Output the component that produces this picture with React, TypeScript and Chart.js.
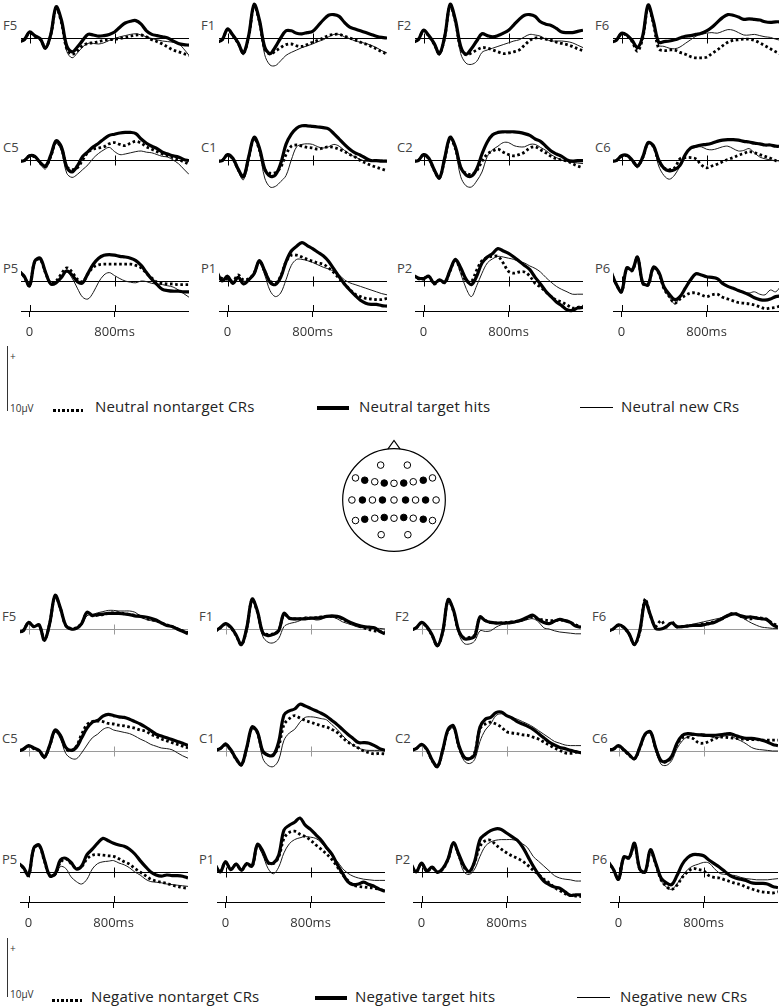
import React, { useEffect, useRef } from "react";
import { Chart, registerables } from "chart.js";

Chart.register(...registerables);

// ---------- time axis ----------
const TIMES = [-100, -50, 0, 50, 100, 150, 200, 250, 300, 350, 400, 450, 500, 550, 600, 650, 700, 750, 800, 850, 900, 950, 1000, 1050, 1100, 1150, 1200, 1250, 1300, 1350, 1400, 1450, 1500];
const TIME_TICKS = [0, 800];
const TIME_TICK_LABELS = ["0", "800ms"];
const T_MIN = -80;
const T_MAX = 1500;

// ---------- Neutral condition (µV) ----------
const NEU_F5_HITS = [-0.6,-0.3,1.0,0.4,-0.1,-1.7,0.6,5.2,3.0,-1.3,-2.3,-1.5,-0.4,0.6,0.5,0.3,0.4,0.6,1.0,1.8,2.5,2.8,2.9,2.3,1.2,0.6,0.4,0.2,0.0,-0.5,-0.9,-1.1,-1.2];
const NEU_F5_NONTARGET = [-0.6,-0.3,0.9,0.3,-0.2,-1.6,0.5,5.0,2.6,-1.8,-2.7,-2.1,-1.3,-0.9,-0.8,-0.6,-0.4,-0.3,-0.2,-0.1,0.1,0.3,0.5,0.5,0.2,-0.3,-0.6,-1.0,-1.5,-2.0,-2.3,-2.6,-2.9];
const NEU_F5_NEW = [-0.6,-0.4,0.9,0.3,-0.3,-1.9,0.4,5.0,2.5,-2.2,-3.3,-2.5,-1.5,-0.9,-0.9,-1.0,-0.8,-0.4,-0.1,0.2,0.4,0.6,0.7,0.5,0.2,-0.1,-0.3,-0.5,-0.6,-0.7,-0.9,-1.8,-2.9];

const NEU_F1_HITS = [-0.7,-0.3,1.5,0.5,-0.8,-2.5,0.5,5.6,3.0,-1.5,-2.6,-1.5,0.0,1.2,1.2,0.8,0.7,0.9,1.1,2.0,3.0,3.8,3.9,3.6,2.6,1.8,1.5,1.2,0.9,0.6,0.3,0.1,0.0];
const NEU_F1_NONTARGET = [-0.7,-0.3,1.4,0.4,-0.9,-2.5,0.3,5.4,2.7,-1.8,-2.7,-2.2,-1.6,-1.1,-1.0,-1.3,-1.4,-1.1,-0.7,-0.4,0.0,0.4,0.6,0.6,0.3,0.0,-0.3,-0.7,-1.0,-1.4,-1.8,-2.3,-2.7];
const NEU_F1_NEW = [-0.8,-0.4,1.3,0.3,-1.1,-2.8,0.2,5.3,2.3,-2.8,-4.5,-4.6,-3.8,-2.9,-2.4,-2.0,-1.6,-1.3,-1.0,-0.6,-0.3,0.2,0.6,0.6,0.2,-0.1,-0.5,-0.7,-0.9,-1.2,-1.6,-2.1,-2.5];

const NEU_F2_HITS = [-0.7,-0.3,1.3,0.4,-0.9,-2.6,0.3,5.6,3.0,-1.4,-2.7,-1.8,-0.5,0.7,0.4,0.2,0.4,0.8,1.3,2.2,3.1,3.8,3.9,3.6,2.7,2.3,2.1,1.6,1.0,0.9,0.9,1.1,1.3];
const NEU_F2_NONTARGET = [-0.7,-0.3,1.2,0.3,-1.0,-2.6,0.2,5.4,2.7,-1.8,-2.8,-2.5,-2.0,-1.6,-1.7,-2.0,-2.3,-2.6,-2.5,-2.3,-2.0,-1.2,-0.4,0.0,0.0,-0.2,-0.4,-0.7,-0.9,-1.1,-1.4,-1.8,-2.1];
const NEU_F2_NEW = [-0.8,-0.4,1.1,0.2,-1.2,-2.9,0.1,5.2,2.4,-2.6,-4.2,-4.4,-3.9,-2.4,-2.0,-1.7,-1.4,-1.1,-0.8,-0.5,-0.3,0.2,0.6,0.5,0.3,-0.2,-0.5,-0.5,-0.5,-0.6,-0.8,-1.2,-1.6];

const NEU_F6_HITS = [-0.7,-0.4,0.8,0.5,-0.4,-1.6,0.4,5.5,2.8,-0.7,-0.6,-0.5,-0.3,0.0,0.3,0.4,0.6,0.8,1.2,1.8,2.6,3.4,3.9,3.8,3.5,3.1,3.2,3.1,3.0,2.7,2.6,2.7,2.7];
const NEU_F6_NONTARGET = [-0.7,-0.4,0.7,0.4,-0.6,-2.2,0.0,5.2,2.4,-1.8,-2.1,-2.0,-2.0,-2.4,-2.7,-3.1,-3.3,-3.3,-3.2,-2.6,-2.0,-1.3,-0.7,-0.4,-0.3,-0.2,-0.2,-0.4,-0.8,-1.3,-1.8,-2.3,-2.7];
const NEU_F6_NEW = [-0.7,-0.4,0.7,0.4,-0.5,-1.8,0.2,5.3,2.5,-1.2,-1.4,-1.7,-1.8,-1.5,-0.9,-0.3,0.3,0.6,0.8,0.9,0.8,1.1,1.4,1.3,0.9,0.5,0.5,0.6,0.4,0.2,0.1,-0.2,-0.4];

const NEU_C5_HITS = [-0.2,-0.1,0.7,0.6,-0.4,-1.0,0.8,3.2,2.2,-1.2,-2.0,-1.0,0.6,1.4,2.2,2.8,3.5,4.1,4.3,4.5,4.6,4.6,4.4,3.5,2.8,2.3,1.9,1.3,1.0,0.7,0.5,0.1,-0.1];
const NEU_C5_NONTARGET = [-0.2,-0.1,0.7,0.5,-0.5,-1.1,0.6,3.0,2.0,-1.1,-1.6,-1.3,0.0,1.3,1.8,2.0,2.2,2.7,2.9,2.6,2.4,2.8,3.1,2.8,2.2,1.8,1.4,1.0,0.7,0.4,0.1,-0.3,-0.7];
const NEU_C5_NEW = [-0.3,-0.2,0.6,0.4,-0.7,-1.5,0.4,2.8,1.5,-2.2,-2.9,-2.4,-1.6,-0.8,0.3,1.1,1.7,2.1,1.4,0.9,1.0,1.2,1.4,1.5,1.3,1.2,0.9,0.6,0.5,0.0,-0.6,-1.5,-2.4];

const NEU_C1_HITS = [-0.2,-0.1,0.9,0.3,-1.5,-2.8,0.6,3.8,2.0,-1.5,-2.7,-2.5,-0.6,2.6,4.3,5.3,5.7,5.7,5.6,5.5,5.4,5.2,4.4,3.5,2.6,1.8,1.2,0.8,0.3,-0.1,-0.1,-0.2,-0.2];
const NEU_C1_NONTARGET = [-0.2,-0.1,0.8,0.2,-1.6,-2.8,0.4,3.6,1.7,-1.6,-2.2,-2.1,-1.2,0.9,2.3,2.5,2.3,2.1,2.0,1.8,2.0,2.2,2.1,1.8,1.4,0.9,0.5,-0.1,-0.5,-0.9,-1.2,-1.5,-1.8];
const NEU_C1_NEW = [-0.3,-0.2,0.7,0.1,-1.9,-3.3,0.2,3.6,1.4,-3.0,-4.5,-4.4,-3.6,-2.6,0.0,2.2,2.6,2.7,2.6,2.2,2.0,2.2,2.6,2.3,1.6,1.0,0.5,0.1,-0.2,-0.2,-0.1,0.0,-0.1];

const NEU_C2_HITS = [-0.2,-0.1,0.9,0.3,-1.6,-3.0,0.4,3.8,2.2,-1.2,-2.5,-2.7,-1.5,1.0,3.0,4.2,4.6,4.7,4.7,4.7,4.6,4.4,4.1,3.5,3.1,2.3,1.5,1.0,0.6,0.0,-0.2,-0.1,-0.1];
const NEU_C2_NONTARGET = [-0.2,-0.1,0.8,0.2,-1.7,-3.0,0.2,3.6,1.9,-1.3,-2.2,-2.4,-1.8,-0.2,1.0,1.5,1.8,1.3,0.9,0.7,0.9,1.3,2.0,2.2,1.7,1.2,0.6,0.2,0.0,-0.2,-0.6,-1.0,-1.3];
const NEU_C2_NEW = [-0.3,-0.2,0.7,0.1,-1.9,-3.2,0.1,3.5,1.6,-2.8,-4.3,-4.5,-3.5,-2.0,0.6,1.7,2.3,2.9,2.9,2.4,2.2,2.2,2.6,2.6,2.1,1.6,0.9,0.4,0.0,-0.2,-0.4,-0.5,-0.6];

const NEU_C6_HITS = [-0.2,-0.1,0.7,0.8,0.0,-1.0,0.5,2.9,2.4,0.0,-1.4,-1.8,-1.6,-0.9,0.9,2.0,2.3,2.5,2.6,2.8,3.1,3.3,3.4,3.4,3.3,3.1,3.0,2.8,2.7,2.5,2.5,2.3,2.3];
const NEU_C6_NONTARGET = [-0.2,-0.1,0.6,0.7,-0.1,-1.0,0.4,2.8,2.2,-0.2,-1.3,-1.6,-1.3,0.2,0.4,0.4,0.2,-0.8,-1.3,-1.0,-0.7,-0.3,0.1,0.4,0.8,1.1,1.4,1.2,0.9,0.6,0.3,-0.1,-0.3];
const NEU_C6_NEW = [-0.3,-0.2,0.6,0.7,-0.2,-1.3,0.3,2.8,2.2,-1.0,-2.6,-3.2,-2.5,-1.0,0.8,1.8,2.1,2.2,1.8,1.7,1.9,2.2,2.3,1.9,1.5,1.6,1.9,1.2,0.5,0.2,0.0,-0.1,-0.2];

const NEU_P5_HITS = [1.7,0.8,-0.8,3.3,3.8,1.5,-0.5,-0.3,0.6,1.7,1.0,-0.1,-0.3,1.3,2.8,3.8,4.3,4.4,4.3,4.1,4.0,3.8,3.4,2.6,1.4,0.3,-0.6,-1.4,-1.6,-1.7,-1.7,-1.8,-1.8];
const NEU_P5_NONTARGET = [1.7,0.7,-0.8,3.3,3.6,1.4,-0.4,0.0,1.2,2.2,1.5,0.3,-0.1,1.2,2.3,2.7,2.8,2.8,2.8,2.8,2.8,2.8,2.6,2.2,1.3,0.5,-0.2,-0.4,-0.5,-0.5,-0.6,-0.6,-0.6];
const NEU_P5_NEW = [1.7,0.6,-0.9,3.2,3.5,1.3,-0.6,-0.1,0.7,1.5,0.5,-1.2,-2.7,-3.0,-1.9,-0.2,1.0,1.4,0.9,0.4,0.0,-0.2,-0.3,0.0,-0.1,-0.4,-0.5,-0.6,-0.8,-1.0,-1.5,-2.1,-2.7];

const NEU_P1_HITS = [1.5,0.0,0.8,-0.4,0.6,-0.5,0.2,1.2,3.4,1.7,-0.2,-0.6,0.6,3.2,5.0,5.8,6.4,5.9,5.4,4.8,4.2,3.3,2.0,0.7,-0.5,-1.5,-2.4,-3.2,-3.7,-3.9,-3.9,-4.1,-4.2];
const NEU_P1_NONTARGET = [1.2,0.4,0.3,0.0,1.0,0.2,0.4,1.3,3.3,1.6,0.0,-0.3,0.8,3.2,4.3,4.3,4.0,3.6,3.3,3.0,2.8,2.2,1.4,0.4,-0.5,-1.4,-2.2,-2.6,-2.9,-3.0,-3.1,-3.1,-2.9];
const NEU_P1_NEW = [1.2,0.3,0.2,-0.2,0.8,0.0,0.1,1.0,3.0,1.0,-1.6,-2.6,-2.0,0.2,2.6,3.6,3.6,3.4,3.1,2.7,2.3,2.0,1.6,1.0,0.2,-0.3,-0.6,-0.9,-1.2,-1.5,-1.8,-2.1,-2.3];

const NEU_P2_HITS = [1.0,0.5,0.4,0.8,-0.4,0.2,-0.2,1.8,3.6,2.2,0.3,-0.6,0.8,3.0,4.0,4.6,5.4,5.0,4.6,4.0,3.3,2.6,1.9,0.6,-0.5,-1.7,-2.6,-3.5,-4.1,-4.8,-4.9,-4.5,-4.4];
const NEU_P2_NONTARGET = [0.9,0.4,0.3,0.7,-0.5,0.1,-0.3,1.7,3.4,1.8,0.0,-0.1,1.8,3.4,3.9,4.1,4.1,3.0,1.6,1.3,1.5,1.5,0.8,-0.4,-1.0,-1.8,-2.6,-3.2,-3.5,-4.0,-4.5,-4.4,-4.2];
const NEU_P2_NEW = [0.9,0.4,0.3,0.6,-0.6,0.0,-0.4,1.5,3.3,1.2,-1.2,-2.6,-0.8,1.3,3.0,3.7,4.1,4.0,3.8,3.6,3.2,3.0,2.5,2.1,1.5,0.6,-0.2,-0.9,-1.4,-1.8,-2.2,-2.2,-2.2];

const NEU_P6_HITS = [1.6,-0.5,-1.8,2.2,1.8,4.0,-0.3,-0.6,2.3,1.5,-1.0,-2.2,-3.1,-2.6,-1.2,0.2,1.2,1.0,0.7,0.6,0.4,-0.4,-0.9,-1.2,-1.6,-1.9,-2.3,-2.8,-3.1,-3.2,-3.0,-2.6,-2.5];
const NEU_P6_NONTARGET = [1.5,-0.5,-1.8,2.1,1.7,3.9,-0.4,-0.7,2.2,1.3,-1.3,-2.6,-3.7,-3.0,-2.4,-2.0,-2.0,-2.3,-2.6,-2.3,-2.2,-2.7,-3.0,-3.3,-3.6,-3.7,-3.8,-4.0,-4.3,-4.6,-4.5,-4.4,-4.1];
const NEU_P6_NEW = [1.5,-0.5,-1.8,2.1,1.7,3.9,-0.4,-0.7,2.1,1.2,-1.4,-2.7,-3.8,-2.6,-1.0,0.2,1.1,1.1,0.8,0.5,0.3,-0.3,-0.8,-1.3,-1.7,-1.9,-2.0,-1.8,-2.2,-2.3,-1.5,-1.8,-0.8];

// ---------- Negative condition (µV) ----------
const NEG_F5_HITS = [-0.5,-0.3,1.1,0.4,0.7,-1.9,1.0,5.6,3.5,0.6,0.0,0.1,0.9,2.8,2.3,2.4,2.5,2.6,2.6,2.6,2.5,2.4,2.2,2.1,2.0,1.8,1.5,1.0,0.6,0.4,0.0,-0.4,-0.8];
const NEG_F5_NONTARGET = [-0.5,-0.3,1.1,0.4,0.6,-1.8,1.0,5.5,3.4,0.6,0.1,0.2,1.0,2.7,2.2,2.3,2.4,2.6,2.7,2.7,2.6,2.4,2.3,2.1,1.8,1.6,1.4,1.0,0.7,0.4,0.0,-0.3,-0.6];
const NEG_F5_NEW = [-0.5,-0.3,1.0,0.4,0.6,-1.9,0.9,5.5,3.3,0.4,-0.1,0.0,0.7,2.2,2.4,2.7,2.9,3.1,3.1,3.0,3.0,3.0,2.8,2.2,1.6,1.4,1.2,1.0,0.7,0.5,0.2,-0.2,-0.5];

const NEG_F1_HITS = [-0.4,0.2,0.9,0.3,-1.0,-2.6,0.2,5.0,3.0,-0.6,-1.1,-0.9,-0.3,2.6,1.8,1.7,1.7,1.7,1.8,1.8,1.9,2.1,2.2,2.1,1.8,1.3,0.9,0.6,0.4,0.3,0.2,-0.4,-0.8];
const NEG_F1_NONTARGET = [-0.4,0.2,0.8,0.2,-1.1,-2.6,0.1,4.9,2.8,-0.6,-0.9,-0.8,-0.2,2.4,1.8,1.7,1.7,1.8,1.8,1.9,2.0,2.1,2.1,2.0,1.7,1.2,0.8,0.5,0.2,-0.1,-0.3,-0.4,-0.5];
const NEG_F1_NEW = [-0.4,0.2,1.0,0.3,-1.1,-2.7,0.1,4.9,2.7,-1.2,-2.2,-2.3,-1.6,0.4,0.9,1.1,1.4,2.0,1.8,1.5,1.6,2.0,2.0,1.7,1.2,0.9,0.6,0.3,0.2,0.2,0.1,0.1,0.0];

const NEG_F2_HITS = [-0.2,0.2,1.1,0.4,-1.0,-2.8,-0.4,4.9,3.2,-0.3,-1.6,-1.6,-1.2,2.0,1.4,1.1,1.0,1.0,1.0,1.1,1.3,1.6,2.0,2.3,1.6,1.1,0.9,1.3,1.6,1.4,1.1,0.5,0.3];
const NEG_F2_NONTARGET = [-0.2,0.2,1.0,0.3,-1.1,-2.8,-0.5,4.8,3.0,-0.4,-1.5,-1.4,-1.0,1.9,1.4,1.1,1.0,1.0,1.1,1.2,1.3,1.5,1.8,2.0,1.7,1.5,1.4,1.4,1.5,1.4,1.1,0.7,0.4];
const NEG_F2_NEW = [-0.2,0.2,1.0,0.3,-1.1,-2.9,-0.6,4.8,2.9,-0.8,-2.4,-2.5,-2.0,-0.3,-0.4,-0.3,0.3,0.7,0.9,1.0,1.1,1.3,1.6,1.7,1.2,0.2,0.0,-0.3,-0.5,-0.6,-0.7,-0.8,-0.8];

const NEG_F6_HITS = [-0.4,0.0,0.7,0.3,-0.8,-2.6,-0.3,4.6,2.3,0.1,0.0,0.4,1.0,0.4,0.4,0.5,0.6,0.6,0.7,0.9,1.1,1.5,2.0,2.4,2.5,2.2,2.0,2.0,1.8,1.7,1.5,0.7,0.3];
const NEG_F6_NONTARGET = [-0.4,0.0,0.6,0.2,-0.9,-2.6,-0.5,5.0,2.2,0.5,1.4,0.3,1.2,0.3,0.4,0.5,0.6,0.7,0.9,1.0,1.2,1.5,1.9,2.5,2.6,2.1,1.8,1.7,1.9,1.8,1.6,0.9,0.6];
const NEG_F6_NEW = [-0.4,0.0,0.6,0.2,-0.9,-2.7,-0.5,4.7,2.1,0.0,0.0,0.3,0.9,0.3,0.4,0.6,0.8,1.0,1.2,1.4,1.6,1.8,2.1,2.5,2.4,2.0,1.5,1.0,0.6,0.3,0.2,0.1,0.1];

const NEG_C5_HITS = [0.0,0.3,0.9,0.5,0.1,-1.0,1.0,3.5,2.6,0.6,0.1,0.6,2.2,3.8,4.8,5.1,5.8,6.1,5.9,5.7,5.6,5.3,4.9,4.5,4.0,3.4,2.8,2.5,2.2,1.9,1.6,1.3,0.9];
const NEG_C5_NONTARGET = [0.0,0.3,0.8,0.4,0.0,-1.0,0.9,3.4,2.5,0.4,0.0,0.8,2.8,4.4,4.9,5.0,4.9,4.6,4.5,4.3,4.2,4.0,3.8,3.5,3.3,2.8,2.4,2.0,1.7,1.4,1.1,0.8,0.5];
const NEG_C5_NEW = [0.0,0.2,0.8,0.4,-0.1,-1.3,0.6,3.1,2.0,-0.4,-1.2,-1.3,-0.3,1.0,2.2,2.8,3.6,3.9,3.5,3.3,3.1,2.9,2.5,2.0,1.6,1.1,0.8,0.5,0.4,0.2,-0.3,-0.8,-1.2];

const NEG_C1_HITS = [0.1,0.4,1.1,0.2,-1.3,-2.3,0.6,4.0,3.2,0.0,-0.7,-0.7,1.5,6.0,6.7,7.0,7.8,7.5,7.1,6.7,6.3,5.8,5.1,4.4,3.6,2.8,2.1,1.4,1.4,1.3,0.9,0.4,0.1];
const NEG_C1_NONTARGET = [0.1,0.4,1.0,0.1,-1.4,-2.3,0.5,3.9,3.0,-0.1,-0.7,-0.6,0.8,4.4,5.4,5.9,5.5,5.1,4.8,4.5,4.2,4.0,3.6,3.1,2.2,1.5,1.0,0.5,0.0,-0.3,-0.5,-0.4,-0.5];
const NEG_C1_NEW = [0.1,0.5,1.4,0.4,-1.1,-2.2,0.5,3.8,2.8,-1.2,-2.4,-2.6,-1.5,1.8,3.0,3.6,4.8,5.6,5.7,5.6,5.4,5.2,4.4,3.6,2.6,1.7,1.0,0.5,0.2,0.1,0.1,0.1,0.1];

const NEG_C2_HITS = [0.1,0.4,1.1,0.3,-1.5,-2.6,0.2,3.6,4.2,1.0,-1.0,-1.3,-0.6,4.0,5.3,5.6,6.4,6.5,5.9,5.5,4.9,4.5,4.1,3.6,2.9,2.2,1.5,1.0,0.6,0.4,0.1,-0.1,-0.3];
const NEG_C2_NONTARGET = [0.1,0.4,1.0,0.2,-1.6,-2.6,0.1,3.4,4.0,0.8,-1.1,-1.3,-0.3,3.7,4.5,4.8,4.5,4.0,3.2,3.0,2.9,2.7,2.6,2.3,2.0,1.5,1.0,0.5,0.1,-0.3,-0.4,-0.2,-0.3];
const NEG_C2_NEW = [0.1,0.4,1.0,0.2,-1.4,-2.4,0.1,3.3,3.8,0.5,-1.6,-2.1,-1.4,1.6,3.5,4.5,5.9,6.2,5.9,5.6,5.3,4.9,4.5,4.0,3.4,2.8,2.2,1.6,1.3,1.0,0.9,0.9,0.9];

const NEG_C6_HITS = [0.2,0.3,0.9,0.2,-0.6,-1.3,0.6,2.8,3.2,0.5,-1.6,-1.7,-0.9,1.3,2.6,2.9,2.8,2.7,2.6,2.6,2.6,2.7,2.8,2.9,2.6,2.3,2.1,2.1,2.0,1.8,1.5,1.1,0.9];
const NEG_C6_NONTARGET = [0.2,0.3,0.8,0.1,-0.7,-1.3,0.5,2.7,3.1,0.4,-1.7,-1.8,-1.0,1.1,2.2,2.3,2.1,1.4,1.3,1.6,2.0,2.3,2.3,2.2,2.1,2.0,1.9,1.9,1.9,1.8,1.8,1.8,1.8];
const NEG_C6_NEW = [0.2,0.3,0.8,0.1,-0.7,-1.4,0.4,2.6,3.0,0.0,-2.2,-2.4,-1.6,0.4,1.7,2.4,2.6,2.8,2.9,2.5,2.2,2.3,2.5,2.6,2.1,1.7,1.2,0.6,0.3,0.2,0.1,0.0,0.0];

const NEG_P5_HITS = [1.5,0.8,-0.5,4.0,4.5,2.0,-0.6,-0.3,2.0,2.3,1.6,0.5,1.0,2.9,3.8,4.8,5.6,5.2,4.8,4.5,4.3,3.8,3.0,1.9,0.9,0.0,-0.5,-0.7,-0.5,-0.6,-0.6,-0.7,-1.0];
const NEG_P5_NONTARGET = [1.5,0.7,-0.6,3.9,4.4,1.8,-0.7,-0.4,1.6,2.2,1.4,0.6,0.9,2.2,2.8,2.9,2.8,2.7,2.6,2.2,1.7,1.3,0.6,0.0,-0.6,-1.2,-1.5,-1.7,-1.9,-2.2,-2.4,-2.6,-2.7];
const NEG_P5_NEW = [1.5,0.7,-0.7,3.8,4.3,1.7,-0.8,-0.6,0.9,0.6,-0.8,-1.6,-2.0,-1.2,0.5,1.4,1.7,1.8,1.9,1.5,1.2,0.7,0.0,-0.5,-1.2,-1.6,-1.7,-1.8,-2.0,-2.1,-2.2,-2.3,-2.4];

const NEG_P1_HITS = [1.3,0.0,1.7,0.4,1.3,0.3,1.4,1.0,4.6,3.5,1.6,1.5,2.8,7.0,7.8,8.3,9.0,7.8,7.1,6.2,5.3,4.1,3.0,1.3,-0.2,-1.6,-2.1,-2.0,-1.7,-2.1,-2.4,-2.9,-3.2];
const NEG_P1_NONTARGET = [1.3,0.0,1.7,0.4,1.3,0.3,1.3,0.9,4.5,3.3,1.5,1.4,2.5,5.6,6.6,6.8,6.3,5.9,5.3,4.5,3.8,3.0,2.1,0.9,-0.4,-1.4,-2.2,-2.4,-2.5,-2.6,-2.7,-2.9,-3.1];
const NEG_P1_NEW = [1.2,0.0,1.6,0.3,1.2,0.2,1.2,0.8,4.3,2.8,0.6,-0.3,0.8,3.2,4.7,5.4,5.7,5.9,5.8,5.6,4.9,3.8,2.7,1.8,0.6,-0.2,-0.7,-1.0,-1.2,-1.3,-1.4,-1.4,-1.4];

const NEG_P2_HITS = [1.4,0.0,1.5,0.2,0.8,0.0,0.6,2.2,4.9,3.0,1.0,0.1,1.8,5.4,6.3,6.9,7.2,7.1,6.5,5.9,5.3,4.2,2.6,1.0,-0.4,-1.5,-2.1,-2.5,-2.7,-3.3,-3.9,-3.8,-3.8];
const NEG_P2_NONTARGET = [1.3,0.0,1.4,0.1,0.7,-0.1,0.5,2.1,4.8,2.8,0.8,0.0,1.6,4.3,5.2,5.3,4.5,3.8,3.2,2.7,2.3,1.8,1.1,0.3,-0.4,-1.2,-1.8,-2.6,-3.1,-3.6,-3.9,-4.0,-4.1];
const NEG_P2_NEW = [1.3,0.0,1.4,0.1,0.7,-0.1,0.5,2.0,4.6,2.4,0.0,-0.4,0.5,2.6,4.3,5.0,5.3,5.4,5.4,5.4,5.2,4.7,4.0,2.6,1.8,1.0,0.2,-0.6,-1.0,-1.2,-1.3,-1.5,-1.5];

const NEG_P6_HITS = [1.8,0.5,-1.2,2.5,2.4,4.8,0.5,0.0,3.7,1.5,-1.0,-1.8,-2.1,-0.6,1.3,2.4,2.9,2.9,2.7,2.0,1.4,0.8,0.1,-0.6,-1.0,-1.2,-1.4,-1.8,-1.9,-1.9,-2.0,-2.4,-2.6];
const NEG_P6_NONTARGET = [1.8,0.5,-1.2,2.4,2.3,4.7,0.4,-0.1,3.5,1.3,-1.3,-2.4,-2.9,-2.2,-0.9,0.0,0.6,0.4,0.2,-0.6,-0.9,-1.0,-1.3,-1.6,-1.9,-2.1,-2.5,-2.8,-3.1,-3.3,-3.4,-3.5,-3.3];
const NEG_P6_NEW = [1.8,0.5,-1.2,2.4,2.3,4.6,0.4,-0.1,3.5,1.3,-1.4,-2.5,-2.9,-2.0,-0.7,0.4,1.0,1.3,1.6,1.5,0.6,-0.2,-0.4,-0.5,-0.6,-0.9,-1.1,-1.2,-1.3,-1.3,-1.3,-1.2,-1.1];

// ---------- labels ----------
const SITE_LABELS = [
  ["F5", "F1", "F2", "F6"],
  ["C5", "C1", "C2", "C6"],
  ["P5", "P1", "P2", "P6"],
];
const NEUTRAL_LEGEND = ["Neutral nontarget CRs", "Neutral target hits", "Neutral new CRs"];
const NEGATIVE_LEGEND = ["Negative nontarget CRs", "Negative target hits", "Negative new CRs"];
const SCALE_LABEL = "10\u00b5V";

// [hits, nontarget CRs, new CRs] per site
const NEUTRAL_WAVES = [
  [[NEU_F5_HITS, NEU_F5_NONTARGET, NEU_F5_NEW], [NEU_F1_HITS, NEU_F1_NONTARGET, NEU_F1_NEW], [NEU_F2_HITS, NEU_F2_NONTARGET, NEU_F2_NEW], [NEU_F6_HITS, NEU_F6_NONTARGET, NEU_F6_NEW]],
  [[NEU_C5_HITS, NEU_C5_NONTARGET, NEU_C5_NEW], [NEU_C1_HITS, NEU_C1_NONTARGET, NEU_C1_NEW], [NEU_C2_HITS, NEU_C2_NONTARGET, NEU_C2_NEW], [NEU_C6_HITS, NEU_C6_NONTARGET, NEU_C6_NEW]],
  [[NEU_P5_HITS, NEU_P5_NONTARGET, NEU_P5_NEW], [NEU_P1_HITS, NEU_P1_NONTARGET, NEU_P1_NEW], [NEU_P2_HITS, NEU_P2_NONTARGET, NEU_P2_NEW], [NEU_P6_HITS, NEU_P6_NONTARGET, NEU_P6_NEW]],
];
const NEGATIVE_WAVES = [
  [[NEG_F5_HITS, NEG_F5_NONTARGET, NEG_F5_NEW], [NEG_F1_HITS, NEG_F1_NONTARGET, NEG_F1_NEW], [NEG_F2_HITS, NEG_F2_NONTARGET, NEG_F2_NEW], [NEG_F6_HITS, NEG_F6_NONTARGET, NEG_F6_NEW]],
  [[NEG_C5_HITS, NEG_C5_NONTARGET, NEG_C5_NEW], [NEG_C1_HITS, NEG_C1_NONTARGET, NEG_C1_NEW], [NEG_C2_HITS, NEG_C2_NONTARGET, NEG_C2_NEW], [NEG_C6_HITS, NEG_C6_NONTARGET, NEG_C6_NEW]],
  [[NEG_P5_HITS, NEG_P5_NONTARGET, NEG_P5_NEW], [NEG_P1_HITS, NEG_P1_NONTARGET, NEG_P1_NEW], [NEG_P2_HITS, NEG_P2_NONTARGET, NEG_P2_NEW], [NEG_P6_HITS, NEG_P6_NONTARGET, NEG_P6_NEW]],
];

// ---------- electrode montage (head-radius units) ----------
const ELECTRODE_X = [-0.26, 0.26, -0.75, -0.57, -0.375, -0.19, 0, 0.19, 0.375, 0.57, 0.75, -0.82, -0.615, -0.42, -0.225, 0, 0.225, 0.42, 0.615, 0.82, -0.75, -0.57, -0.375, -0.19, 0, 0.19, 0.375, 0.57, 0.75, -0.25, 0.27];
const ELECTRODE_Y = [0.68, 0.68, 0.43, 0.385, 0.355, 0.33, 0.325, 0.33, 0.355, 0.385, 0.43, 0, 0, 0, 0, 0, 0, 0, 0, 0, -0.40, -0.375, -0.355, -0.34, -0.355, -0.34, -0.355, -0.375, -0.40, -0.676, -0.676];
const ELECTRODE_SELECTED = [0, 0, 0, 1, 0, 1, 0, 1, 0, 1, 0, 0, 1, 0, 1, 0, 1, 0, 1, 0, 0, 1, 0, 1, 0, 1, 0, 1, 0, 0, 0];

// ---------- layout ----------
const FONT = '"Open Sans", "Noto Sans", sans-serif';
const PX_PER_MS = 0.10633;
const PLOT_W = 168;
const PLOT_H = 120;
const ABOVE_PX = 60; // px from canvas top to zero line
const Y_MAX = 10;
const PANELS = [
  { waves: NEUTRAL_WAVES, x0: [30, 227.5, 424, 621.5], base: [38, 160, 281], zeroColor: ["#000", "#000", "#000"], legend: NEUTRAL_LEGEND, legendTop: 399, legendX: [53, 95, 317, 359, 580, 621], scaleTop: 346, scaleH: 65 },
  { waves: NEGATIVE_WAVES, x0: [28.5, 225.5, 422, 619], base: [629, 751, 872], zeroColor: ["#9a9a9a", "#9a9a9a", "#000"], legend: NEGATIVE_LEGEND, legendTop: 989, legendX: [52, 91, 315, 355, 577, 620], scaleTop: 938, scaleH: 59 },
];

const zeroLinePlugin = {
  id: "zeroLine",
  beforeDatasetsDraw(chart: any, _args: any, opts: any) {
    const { ctx, chartArea } = chart;
    const xs = chart.scales.x;
    const ys = chart.scales.y;
    const y0 = Math.round(ys.getPixelForValue(0)) + 0.5;
    ctx.save();
    ctx.strokeStyle = opts.color || "#000";
    ctx.lineWidth = 1;
    ctx.beginPath();
    ctx.moveTo(chartArea.left, y0);
    ctx.lineTo(chartArea.right, y0);
    for (const t of TIME_TICKS) {
      const px = Math.round(xs.getPixelForValue(t)) + 0.5;
      ctx.moveTo(px, y0 - 5);
      ctx.lineTo(px, y0 + 5);
    }
    ctx.stroke();
    if (opts.axis) {
      ctx.strokeStyle = "#000";
      ctx.beginPath();
      const yb = chartArea.bottom;
      for (const t of TIME_TICKS) {
        const px = Math.round(xs.getPixelForValue(t)) + 0.5;
        ctx.moveTo(px, yb - 6);
        ctx.lineTo(px, yb);
      }
      ctx.stroke();
    }
    ctx.restore();
  },
};

function WaveChart({ series, left, top, axis, zeroColor }: any) {
  const ref = useRef<HTMLCanvasElement>(null);
  useEffect(() => {
    const pts = (vals: number[]) => TIMES.map((t, i) => ({ x: t, y: vals[i] }));
    const common = { pointRadius: 0, tension: 0.35, fill: false, clip: false as any };
    const chart = new Chart(ref.current as HTMLCanvasElement, {
      type: "line",
      data: {
        datasets: [
          { ...common, data: pts(series[0]), borderColor: "#000", borderWidth: 3.2 },
          { ...common, data: pts(series[1]), borderColor: "#000", borderWidth: 2.8, borderDash: [2.6, 2.6] },
          { ...common, data: pts(series[2]), borderColor: "#1a1a1a", borderWidth: 1 },
        ],
      },
      options: {
        responsive: false,
        animation: false,
        devicePixelRatio: 1,
        layout: { padding: 0 },
        events: [],
        plugins: {
          legend: { display: false },
          tooltip: { enabled: false },
          zeroLine: { color: zeroColor, axis },
        } as any,
        scales: {
          x: {
            type: "linear",
            min: T_MIN,
            max: T_MAX,
            display: axis,
            position: "bottom",
            afterBuildTicks: (s: any) => {
              s.ticks = TIME_TICKS.map((v) => ({ value: v }));
            },
            afterFit: (s: any) => {
              if (axis) {
                s.height = 30;
                s.paddingLeft = 0;
                s.paddingRight = 0;
              }
            },
            ticks: {
              autoSkip: false,
              maxRotation: 0,
              padding: 7,
              color: "#333",
              font: { family: FONT, size: 13 },
              callback: (_v: any, i: number) => TIME_TICK_LABELS[i],
            },
            grid: { display: true, drawOnChartArea: false, drawTicks: true, tickLength: 6, color: "#000", lineWidth: 1 },
            border: { display: true, color: "#000", width: 1 },
          },
          y: { min: axis ? -5 : -10, max: Y_MAX, display: false },
        },
      },
      plugins: [zeroLinePlugin],
    });
    return () => chart.destroy();
  }, []);
  return (
    <canvas
      ref={ref}
      width={PLOT_W}
      height={PLOT_H}
      style={{ position: "absolute", left, top, width: PLOT_W, height: PLOT_H }}
    />
  );
}

const headPlugin = {
  id: "headOutline",
  beforeDatasetsDraw(chart: any) {
    const { ctx } = chart;
    const xs = chart.scales.x;
    const ys = chart.scales.y;
    const cx = xs.getPixelForValue(0);
    const cy = ys.getPixelForValue(0);
    const r = xs.getPixelForValue(1) - cx;
    ctx.save();
    ctx.strokeStyle = "#000";
    ctx.lineWidth = 1.2;
    ctx.beginPath();
    ctx.arc(cx, cy, r, 0, Math.PI * 2);
    ctx.stroke();
    ctx.beginPath();
    ctx.moveTo(xs.getPixelForValue(-0.12), ys.getPixelForValue(0.993));
    ctx.lineTo(xs.getPixelForValue(0), ys.getPixelForValue(1.16));
    ctx.lineTo(xs.getPixelForValue(0.12), ys.getPixelForValue(0.993));
    ctx.stroke();
    ctx.restore();
  },
};

function HeadChart() {
  const ref = useRef<HTMLCanvasElement>(null);
  useEffect(() => {
    const open: any[] = [];
    const filled: any[] = [];
    ELECTRODE_X.forEach((x, i) => {
      (ELECTRODE_SELECTED[i] ? filled : open).push({ x, y: ELECTRODE_Y[i] });
    });
    const lim = 75 / 55;
    const chart = new Chart(ref.current as HTMLCanvasElement, {
      type: "scatter",
      data: {
        datasets: [
          { data: filled, pointRadius: 3.3, pointBackgroundColor: "#000", pointBorderColor: "#000", pointBorderWidth: 1 },
          { data: open, pointRadius: 3.3, pointBackgroundColor: "#fff", pointBorderColor: "#000", pointBorderWidth: 1 },
        ],
      },
      options: {
        responsive: false,
        animation: false,
        devicePixelRatio: 1,
        events: [],
        layout: { padding: 0 },
        plugins: { legend: { display: false }, tooltip: { enabled: false } },
        scales: {
          x: { type: "linear", min: -lim, max: lim, display: false },
          y: { type: "linear", min: -lim, max: lim, display: false },
        },
      },
      plugins: [headPlugin],
    });
    return () => chart.destroy();
  }, []);
  return <canvas ref={ref} width={150} height={150} style={{ position: "absolute", left: 319, top: 425, width: 150, height: 150 }} />;
}

function Legend({ panel }: any) {
  const t = panel.legendTop;
  const [dx, dtx, kx, ktx, nx, ntx] = panel.legendX;
  const text: any = { position: "absolute", top: t, fontFamily: FONT, fontSize: 15, lineHeight: "15px", color: "#222", whiteSpace: "nowrap", letterSpacing: 0.2 };
  return (
    <>
      <div style={{ position: "absolute", left: dx, top: t + 10, width: 32, height: 2.6, background: "repeating-linear-gradient(90deg, #000 0 2.6px, transparent 2.6px 4.6px)" }} />
      <div style={{ ...text, left: dtx }}>{panel.legend[0]}</div>
      <div style={{ position: "absolute", left: kx, top: t + 7, width: 32, height: 3.5, background: "#000" }} />
      <div style={{ ...text, left: ktx }}>{panel.legend[1]}</div>
      <div style={{ position: "absolute", left: nx, top: t + 8, width: 33, height: 1, background: "#000" }} />
      <div style={{ ...text, left: ntx }}>{panel.legend[2]}</div>
      <div style={{ position: "absolute", left: 7, top: panel.scaleTop, width: 1, height: panel.scaleH, background: "#333" }} />
      <div style={{ position: "absolute", left: 10, top: panel.scaleTop + 5, fontFamily: FONT, fontSize: 10, lineHeight: "10px", color: "#333" }}>+</div>
      <div style={{ position: "absolute", left: 10, top: panel.scaleTop + panel.scaleH - 8, fontFamily: FONT, fontSize: 10, lineHeight: "10px", color: "#333" }}>{SCALE_LABEL}</div>
    </>
  );
}

export default function App() {
  const items: any[] = [];
  PANELS.forEach((panel, p) => {
    panel.waves.forEach((row: any[], r: number) => {
      row.forEach((series: any, c: number) => {
        const x0 = panel.x0[c];
        const base = panel.base[r];
        items.push(
          <WaveChart
            key={`w${p}-${r}-${c}`}
            series={series}
            left={Math.round(x0 - -T_MIN * PX_PER_MS)}
            top={base - ABOVE_PX}
            axis={r === 2}
            zeroColor={panel.zeroColor[r]}
          />
        );
        items.push(
          <div
            key={`l${p}-${r}-${c}`}
            style={{ position: "absolute", left: Math.round(x0 - 27), top: base - 19, fontFamily: FONT, fontSize: 13, lineHeight: "13px", color: "#444" }}
          >
            {SITE_LABELS[r][c]}
          </div>
        );
      });
    });
    items.push(<Legend key={`lg${p}`} panel={panel} />);
  });
  return (
    <div style={{ position: "absolute", left: 0, top: 0, width: 779, height: 1008, overflow: "hidden", background: "#fff" }}>
      {items}
      <HeadChart />
    </div>
  );
}
